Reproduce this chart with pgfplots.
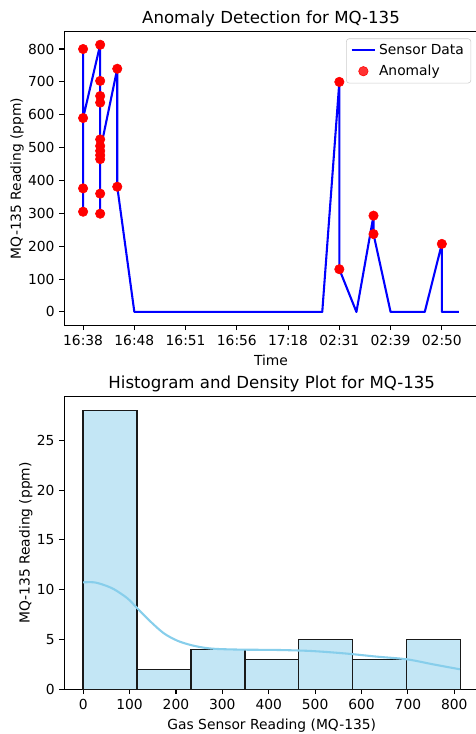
\documentclass[border=0pt]{standalone}
\usepackage{fontspec}
\setmainfont{DejaVu Sans}
\usepackage{pgfplots}
\pgfplotsset{compat=1.18}
\definecolor{skyblue}{RGB}{135,206,235}
\definecolor{barfill}{RGB}{195,230,245}
\begin{document}
\fontsize{10}{12}\selectfont
\begin{tikzpicture}
\pgfplotsset{
  every axis/.append style={
    scale only axis,
    axis line style={line width=0.8bp, black},
    every tick/.style={line width=0.8bp, black},
    tick align=outside,
    major tick length=3.5bp,
    xtick pos=left, ytick pos=left,
    font=\fontsize{10}{12}\selectfont,
    /pgf/number format/assume math mode=true,
    every axis y label/.append style={yshift=-3.6bp},
  },
  every axis title/.style={font=\fontsize{12}{14}\selectfont, at={(0.5,1)}, anchor=base, yshift=6bp, inner sep=0pt},
}
\begin{axis}[
  at={(46.30bp,294.26bp)}, anchor=south west,
  width=297.65bp, height=211.61bp,
  xmin=-1.1, xmax=23.1, ymin=-40.65, ymax=853.65,
  xtick={0,3,...,21},
  xticklabels={16:38,16:48,16:51,16:56,17:18,02:31,02:39,02:50},
  ytick={0,100,...,800},
  xlabel={Time}, ylabel={MQ-135 Reading (ppm)},
  title={Anomaly Detection for MQ-135},
  reverse legend,
  legend cell align=left,
  legend style={at={(0.984,0.976)}, anchor=north east, draw=black!20, rounded corners=2bp,
    fill=white, fill opacity=0.8, text opacity=1, font=\fontsize{10}{12}\selectfont,
    inner xsep=3bp, inner ysep=2bp, row sep=2bp},
]
\addplot[only marks, mark=*, mark size=3.4bp, color=red] coordinates {
  (0,800)(0,376)(0,305)(0,590)
  (1,813)(1,703)(1,657)(1,637)(1,525)(1,505)(1,490)(1,477)(1,465)(1,360)(1,299)
  (2,740)(2,381)
  (15,700)(15,130)
  (17,293)(17,237)
  (21,207)
};
\addlegendentry{Anomaly}
\addplot[color=blue, line width=1.5bp, line join=round] coordinates {
  (0,800)(0,376)(0,305)(0,590)
  (1,813)(1,703)(1,657)(1,637)(1,525)(1,505)(1,477)(1,465)(1,360)(1,299)(1,490)
  (2,740)(2,381)
  (3,0)(4,0)(5,0)(6,0)(7,0)(8,0)(9,0)(10,0)(11,0)(12,0)(13,0)(14,0)
  (15,700)(15,130)(16,0)(17,293)(17,237)(18,0)(19,0)(20,0)(21,207)(21,0)(22,0)
};
\addlegendentry{Sensor Data}
\end{axis}
\begin{axis}[
  at={(46.30bp,32.18bp)}, anchor=south west,
  width=298.73bp, height=210.82bp,
  xmin=-40.65, xmax=853.65, ymin=0, ymax=29.4,
  xtick={0,100,...,800}, ytick={0,5,...,25},
  xlabel={Gas Sensor Reading (MQ-135)}, ylabel={MQ-135 Reading (ppm)},
  title={Histogram and Density Plot for MQ-135},
]
\addplot[ybar interval, fill=barfill, draw=black!90, line width=1bp] coordinates {
  (0,28)(116.14,2)(232.29,4)(348.43,3)(464.57,5)(580.71,3)(696.86,5)(813,5)
};
\addplot[color=skyblue, line width=1.5bp, smooth, line join=round] coordinates {
  (0,10.74)(23.7,10.74)(45,10.47)(66.7,10.04)(95.3,9.14)(116.8,8.13)(145.4,6.79)
  (174,5.62)(203,4.88)(231.6,4.45)(260,4.18)(289,4.05)(346,3.98)(418,3.95)
  (490,3.85)(562,3.61)(633,3.28)(698,3.01)(755,2.5)(812,2.01)
};
\end{axis}
\pgfresetboundingbox
\useasboundingbox (0,0) rectangle (342.72bp,528.48bp);
\end{tikzpicture}
\end{document}
